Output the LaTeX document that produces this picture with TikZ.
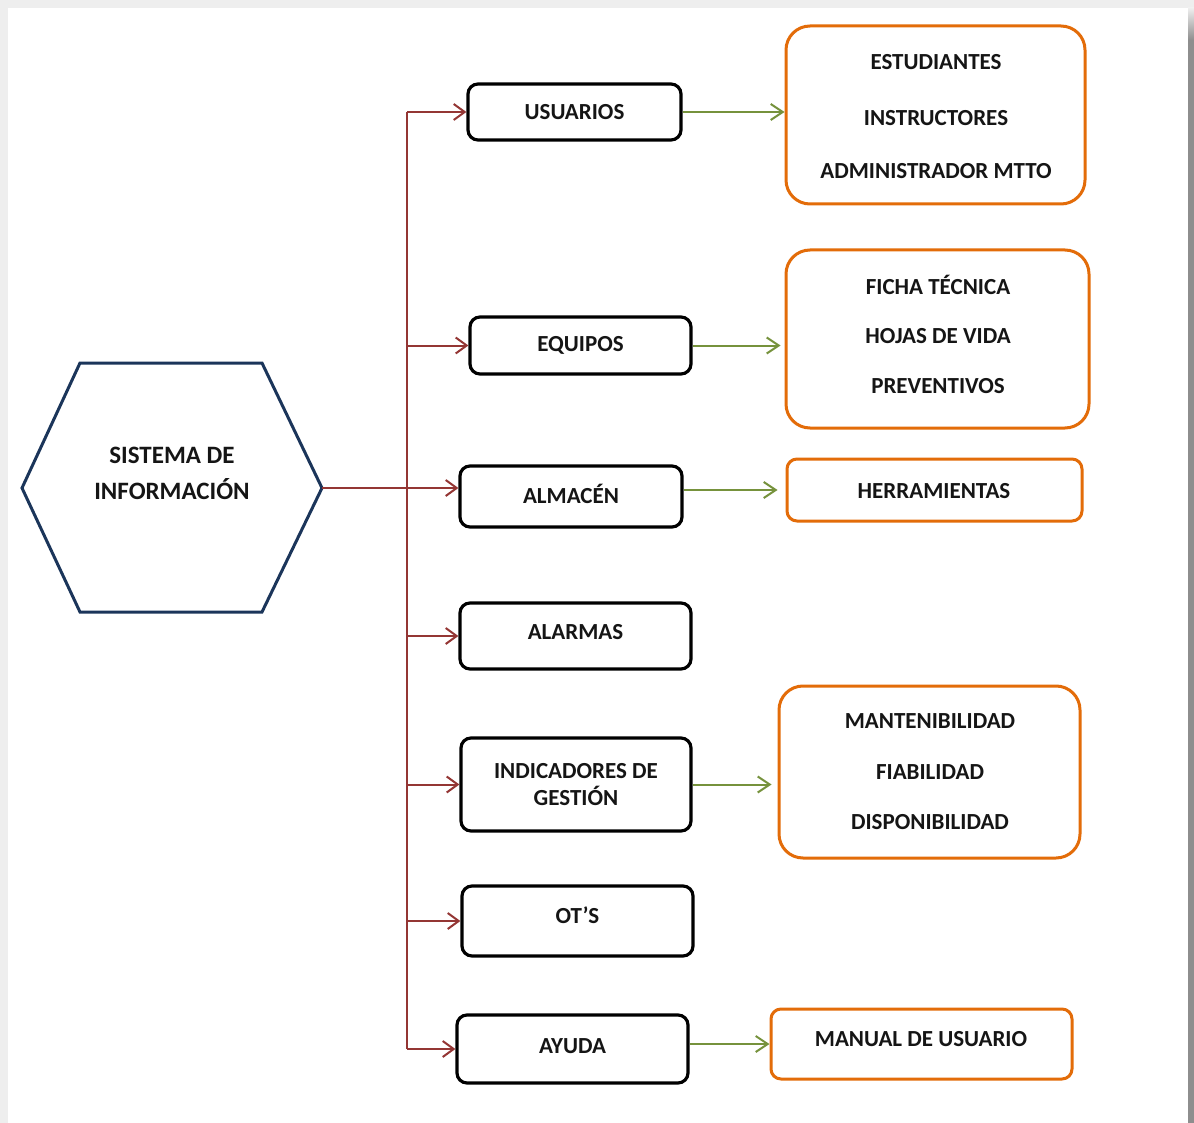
\documentclass[tikz,border=0pt]{standalone}
\usepackage{fontspec}
\setmainfont{Carlito}
\usetikzlibrary{arrows.meta}

\definecolor{hexblue}{HTML}{1B355A}
\definecolor{linkred}{HTML}{943634}
\definecolor{linkgreen}{HTML}{76923C}
\definecolor{boxorange}{HTML}{E36C09}
\definecolor{pagegrey}{HTML}{EEEEEE}
\definecolor{edgegrey}{HTML}{8E8E8E}
\definecolor{inkgrey}{HTML}{151515}

\begin{document}
\begin{tikzpicture}[x=1pt,y=-1pt,
  label/.style={font=\fontsize{23}{26}\selectfont\bfseries, text=inkgrey, inner sep=0pt},
  module/.style={label, draw=black, line width=3.2pt, rounded corners=10pt},
  detail/.style={draw=boxorange, line width=3pt, rounded corners=24pt, inner sep=0pt},
  smalldetail/.style={detail, rounded corners=10pt},
  feed/.style={draw=linkred, line width=2pt},
  feedarrow/.style={feed, -{Straight Barb[length=11pt,width=16pt]}},
  link/.style={draw=linkgreen, line width=2pt, -{Straight Barb[length=12pt,width=16pt]}}
]
\useasboundingbox (0,0) rectangle (1194,1123);

% page with its shadowed edges
\fill[pagegrey] (0,0) rectangle (1194,1123);
\fill[white] (8,8) rectangle (1188,1123);
\fill[edgegrey] (1188,40) rectangle (1194,1123);
\shade[top color=pagegrey, bottom color=edgegrey] (1188,8) rectangle (1194,40);

% central hexagon
\draw[hexblue, line width=3pt, line join=miter]
  (22,488) -- (80,363) -- (262,363) -- (322,488) -- (262,612) -- (80,612) -- cycle;
\coordinate (hexR) at (322,488);
\node[label, font=\fontsize{25}{36}\selectfont\bfseries, align=center] (hex) at (172,473)
  {SISTEMA DE\\INFORMACIÓN};

% modules
\node[module, minimum width=213pt, minimum height=56pt] (usr) at (574.5,112) {USUARIOS};
\node[module, minimum width=221pt, minimum height=57pt] (equ) at (580.5,345.5) {EQUIPOS};
\node[module, minimum width=222pt, minimum height=61pt, text depth=6pt] (alm) at (571,496.5) {ALMACÉN};
\node[module, minimum width=231pt, minimum height=66pt, text depth=8pt] (ala) at (575.5,636) {ALARMAS};
\node[module, minimum width=230pt, minimum height=93pt, align=center,
      font=\fontsize{23}{27}\selectfont\bfseries] (ind) at (576,784.5) {INDICADORES DE\\GESTIÓN};
\node[module, minimum width=231pt, minimum height=70pt, text depth=12pt] (ots) at (577.5,921) {OT’S};
\node[module, minimum width=231pt, minimum height=68pt, text depth=6pt] (ayu) at (572.5,1049) {AYUDA};

% detail boxes
\node[detail, minimum width=299pt, minimum height=178pt] (d1) at (935.5,115) {};
\node[detail, minimum width=303pt, minimum height=178pt] (d2) at (937.5,339) {};
\node[smalldetail, minimum width=295pt, minimum height=62pt] (d3) at (934.5,490) {};
\node[detail, minimum width=301pt, minimum height=172pt] (d4) at (929.5,772) {};
\node[smalldetail, minimum width=301pt, minimum height=70pt] (d5) at (921.5,1044) {};

% detail texts
\node[label] (t11) at (936,62) {ESTUDIANTES};
\node[label] (t12) at (936,118) {INSTRUCTORES};
\node[label] (t13) at (936,171) {ADMINISTRADOR MTTO};
\node[label] (t21) at (938,285) {FICHA TÉCNICA};
\node[label] (t22) at (938,336) {HOJAS DE VIDA};
\node[label] (t23) at (938,386) {PREVENTIVOS};
\node[label] (t31) at (934,491) {HERRAMIENTAS};
\node[label] (t41) at (930,721) {MANTENIBILIDAD};
\node[label] (t42) at (930,772) {FIABILIDAD};
\node[label] (t43) at (930,822) {DISPONIBILIDAD};
\node[label] (t51) at (921,1039) {MANUAL DE USUARIO};

% distribution bus
\coordinate (bus) at (407,0);
\draw[feed] (bus |- usr.west) -- (bus |- ayu.west);
\draw[feed] (hexR) -- (bus |- hexR);
\draw[feedarrow] (bus |- usr.west) -- (usr.west);
\draw[feedarrow] (bus |- equ.west) -- (equ.west);
\draw[feedarrow] (bus |- hexR) -- (hexR -| alm.west);
\draw[feedarrow] (bus |- ala.west) -- (ala.west);
\draw[feedarrow] (bus |- ind.west) -- (ind.west);
\draw[feedarrow] (bus |- ots.west) -- (ots.west);
\draw[feedarrow] (bus |- ayu.west) -- (ayu.west);

% links to details
\draw[link] (usr.east) -- (usr.east -| d1.west);
\draw[link, shorten >=4pt] (equ.east) -- (equ.east -| d2.west);
\draw[link, shorten >=8pt] (alm.east |- d3.west) -- (d3.west);
\draw[link, shorten >=6pt] (ind.east) -- (ind.east -| d4.west);
\draw[link] (ayu.east |- d5.west) -- (d5.west);
\end{tikzpicture}
\end{document}
